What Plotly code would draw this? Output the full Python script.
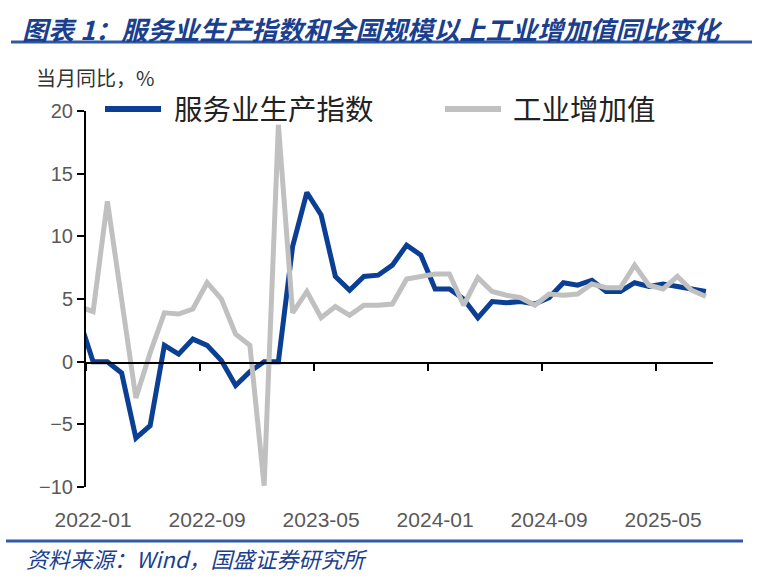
import plotly.graph_objects as go

# months (Dec 2021 sits just left of the axis and is clipped)
months = ["2021-12",
          "2022-01", "2022-02", "2022-03", "2022-04", "2022-05", "2022-06",
          "2022-07", "2022-08", "2022-09", "2022-10", "2022-11", "2022-12",
          "2023-01", "2023-02", "2023-03", "2023-04", "2023-05", "2023-06",
          "2023-07", "2023-08", "2023-09", "2023-10", "2023-11", "2023-12",
          "2024-01", "2024-02", "2024-03", "2024-04", "2024-05", "2024-06",
          "2024-07", "2024-08", "2024-09", "2024-10", "2024-11", "2024-12",
          "2025-01", "2025-02", "2025-03", "2025-04", "2025-05", "2025-06",
          "2025-07", "2025-08"]

services = [3.5,
            0.0, 0.0, -0.9, -6.1, -5.1, 1.3, 0.6, 1.8, 1.3, 0.1, -1.9, -0.8,
            0.0, 0.0, 9.2, 13.5, 11.7, 6.8, 5.7, 6.8, 6.9, 7.7, 9.3, 8.5,
            5.8, 5.8, 5.0, 3.5, 4.8, 4.7, 4.8, 4.6, 5.1, 6.3, 6.1, 6.5,
            5.6, 5.6, 6.3, 6.0, 6.2, 6.0, 5.8, 5.6]

industry = [4.4,
            4.0, 12.8, 5.0, -2.9, 0.7, 3.9, 3.8, 4.2, 6.3, 5.0, 2.2, 1.3,
            -9.9, 18.9, 3.9, 5.6, 3.5, 4.4, 3.7, 4.5, 4.5, 4.6, 6.6, 6.8,
            7.0, 7.0, 4.5, 6.7, 5.6, 5.3, 5.1, 4.5, 5.4, 5.3, 5.4, 6.2,
            5.9, 5.9, 7.7, 6.1, 5.8, 6.8, 5.7, 5.2]

tick_labels = ["2022-01", "2022-09", "2023-05", "2024-01", "2024-09", "2025-05"]
name_services = "服务业生产指数"
name_industry = "工业增加值"

start = months.index("2022-01")
x = [i - start for i in range(len(months))]
label_pos = [months.index(m) - start for m in tick_labels]

BLUE = "#0a3f93"
GREY = "#c0c0c0"
NAVY = "#1b3f8f"

W, H = 763, 580
L, R, T, B = 86, 713, 111, 487


def px(v):
    return (v - L) / (R - L)


def py(v):
    return (B - v) / (B - T)


fig = go.Figure()
fig.add_trace(go.Scatter(x=x, y=services, mode="lines", name=name_services,
                         line=dict(color=BLUE, width=5)))
fig.add_trace(go.Scatter(x=x, y=industry, mode="lines", name=name_industry,
                         line=dict(color=GREY, width=5)))

xr = [-0.5, x[-1] + 0.5]
fig.update_layout(
    width=W, height=H,
    margin=dict(l=L, r=W - R, t=T, b=H - B, pad=0),
    paper_bgcolor="white", plot_bgcolor="white",
    showlegend=False,
    font=dict(family="Liberation Sans, Arial, sans-serif", color="#595959", size=20),
    xaxis=dict(range=xr, tickmode="array", tickvals=label_pos, ticktext=tick_labels,
               ticks="outside", ticklen=14, tickcolor="rgba(0,0,0,0)",
               tickfont=dict(size=21),
               showline=False, showgrid=False, zeroline=False),
    # axis line and tick marks sit on y = 0
    xaxis2=dict(range=xr, overlaying="x", anchor="free", position=py(363),
                tickmode="array", tickvals=[p - 0.5 for p in label_pos],
                ticks="outside", ticklen=7, tickwidth=2, tickcolor="black",
                showticklabels=False, showline=True, linecolor="black",
                linewidth=2, showgrid=False, zeroline=False),
    yaxis=dict(range=[-10, 20], tickvals=[-10, -5, 0, 5, 10, 15, 20],
               ticks="outside", ticklen=7, tickwidth=2, tickcolor="black",
               showline=True, linecolor="black", linewidth=2,
               showgrid=False, zeroline=False),
)
fig.add_trace(go.Scatter(x=[], y=[], xaxis="x2", showlegend=False))

cjk = "Noto Sans CJK SC"
annos = [
    dict(text="<b><i>图表 1：服务业生产指数和全国规模以上工业增加值同比变化</i></b>",
         x=px(20), y=py(28), xanchor="left", yanchor="middle",
         font=dict(family=cjk, size=26, color=NAVY)),
    dict(text="当月同比，%", x=px(34), y=py(78), xanchor="left", yanchor="middle",
         font=dict(family=cjk, size=20, color="#333333")),
    dict(text=name_services, x=px(172), y=py(108), xanchor="left", yanchor="middle",
         font=dict(family=cjk, size=28.5, color="#222222")),
    dict(text=name_industry, x=px(511), y=py(108), xanchor="left", yanchor="middle",
         font=dict(family=cjk, size=28.5, color="#222222")),
    dict(text="<i>资料来源：Wind，国盛证券研究所</i>", x=px(24), y=py(558),
         xanchor="left", yanchor="middle",
         font=dict(family=cjk, size=22, color=NAVY)),
]
for a in annos:
    fig.add_annotation(xref="paper", yref="paper", showarrow=False, **a)

# legend samples and the two rule lines
fig.add_shape(type="line", xref="paper", yref="paper", x0=px(105), x1=px(161),
              y0=py(109), y1=py(109), line=dict(color=BLUE, width=6))
fig.add_shape(type="line", xref="paper", yref="paper", x0=px(445), x1=px(501),
              y0=py(109), y1=py(109), line=dict(color=GREY, width=6))
fig.add_shape(type="line", xref="paper", yref="paper", x0=px(11), x1=px(752),
              y0=py(42), y1=py(42), line=dict(color="#2f5aa6", width=3))
fig.add_shape(type="line", xref="paper", yref="paper", x0=px(6), x1=px(743),
              y0=py(541), y1=py(541), line=dict(color="#2f5aa6", width=3))

fig.write_html("out.html", config={"displayModeBar": False},
               post_script="document.body.style.margin='0';")
